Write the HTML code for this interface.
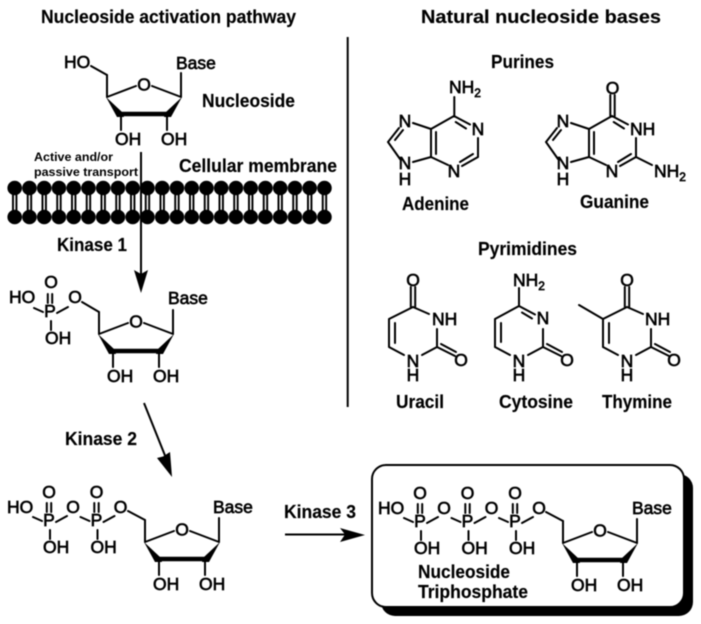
<!DOCTYPE html>
<html>
<head>
<meta charset="utf-8">
<style>
html,body{margin:0;padding:0;background:#fff;width:701px;height:624px;overflow:hidden}
svg{display:block;filter:blur(.45px)}
text{font-family:"Liberation Sans",sans-serif;fill:#000}
.h{font-weight:bold;font-size:18px;stroke:#000;stroke-width:.15px}
.c{font-size:17.5px;stroke:#000;stroke-width:.65px}
.m{text-anchor:middle}
.b{stroke:#000;stroke-width:2;fill:none;stroke-linecap:round}
</style>
</head>
<body>
<svg width="701" height="624" viewBox="0 0 701 624" xmlns="http://www.w3.org/2000/svg">
<defs>
<g id="sugar">
<path class="b" d="M0 0L29 -11M45 -11L74 0M74 0V-24M0 0V-22M14 19V33M60 19V33"/>
<path d="M-1 0L10 20H17L15 15Z" fill="#000"/>
<path d="M75 0L64 20H57L59 15Z" fill="#000"/>
<path d="M13 17H61" stroke="#000" stroke-width="4.5"/>
</g>
<g id="phos">
<path class="b" d="M-2.2 -23V-14M2.2 -23V-14M1 4V13M-16 -9L-7 -5M7 -4L18 -10"/>
</g>
<g id="tail">
<path d="M0 188V217" stroke="#000" stroke-width="5.4"/>
<path d="M0 193V212" stroke="#fff" stroke-width="1.5"/>
<circle cx="0" cy="188" r="7.3" fill="#000"/>
<circle cx="0" cy="217" r="7.3" fill="#000"/>
</g>
<path id="purine" class="b" d="M23 2L41 8M41 8V36M46 11V33M41 8L64 -5M64 -5L80 3.5M65.7 1L76 7.5M88 17V36M88 36L72 45M83 33L70 41M58 44L41 36M41 36L23 41M10 38L-2 21M-2 21L9 7M5 19L13 9"/>
<path id="pyr" class="b" d="M0 0L-24 12M-24 12V40M-24 40L-9 48M9 48L24 40M24 40V22M16 7L0 0M-2.2 -20V0M2.2 -20V0M24 40L42 49M28 37L43 45"/>
</defs>

<!-- Headers -->
<text class="h" x="41" y="23" textLength="255" lengthAdjust="spacingAndGlyphs">Nucleoside activation pathway</text>
<text class="h" x="421" y="23" textLength="240" lengthAdjust="spacingAndGlyphs">Natural nucleoside bases</text>
<path d="M347.7 37V407" stroke="#000" stroke-width="2"/>

<!-- Nucleoside -->
<use href="#sugar" x="107" y="97"/>
<path class="b" d="M107 75L91 66"/>
<text class="c" x="64" y="68">HO</text>
<text class="c m" x="144" y="90.5">O</text>
<text class="c" x="176" y="69">Base</text>
<text class="c" x="115" y="145">OH</text>
<text class="c" x="161" y="145">OH</text>
<text class="h" x="202" y="107" textLength="93" lengthAdjust="spacingAndGlyphs">Nucleoside</text>
<text class="h" x="179" y="172" textLength="158" lengthAdjust="spacingAndGlyphs">Cellular membrane</text>
<text x="34" y="161" font-size="12" font-weight="bold" textLength="79" lengthAdjust="spacingAndGlyphs">Active and/or</text>
<text x="34" y="176" font-size="12" font-weight="bold" textLength="104" lengthAdjust="spacingAndGlyphs">passive transport</text>

<!-- Membrane -->
<use href="#tail" x="14.7"/><use href="#tail" x="29.45"/><use href="#tail" x="44.2"/><use href="#tail" x="58.95"/><use href="#tail" x="73.7"/><use href="#tail" x="88.45"/><use href="#tail" x="103.2"/><use href="#tail" x="117.95"/><use href="#tail" x="132.7"/><use href="#tail" x="147.45"/><use href="#tail" x="162.2"/><use href="#tail" x="176.95"/><use href="#tail" x="191.7"/><use href="#tail" x="206.45"/><use href="#tail" x="221.2"/><use href="#tail" x="235.95"/><use href="#tail" x="250.7"/><use href="#tail" x="265.45"/><use href="#tail" x="280.2"/><use href="#tail" x="294.95"/><use href="#tail" x="309.7"/><use href="#tail" x="324.45"/>

<!-- Kinase 1 -->
<path d="M141 152V275" stroke="#000" stroke-width="2"/>
<path d="M141 293L134 270L141 274L148 270Z" fill="#000"/>
<text class="h" x="57" y="251" textLength="70" lengthAdjust="spacingAndGlyphs">Kinase 1</text>

<!-- Monophosphate -->
<use href="#sugar" x="99" y="334"/>
<path class="b" d="M99 312L82 302"/>
<use href="#phos" x="50" y="317"/>
<text class="c m" x="50" y="317">P</text>
<text class="c m" x="51" y="288">O</text>
<text class="c" x="9" y="303">HO</text>
<text class="c m" x="75" y="303">O</text>
<text class="c" x="45" y="344">OH</text>
<text class="c m" x="136" y="327.5">O</text>
<text class="c" x="168" y="304">Base</text>
<text class="c" x="107" y="382">OH</text>
<text class="c" x="153" y="382">OH</text>

<!-- Kinase 2 -->
<path d="M144 403L166 458" stroke="#000" stroke-width="2"/>
<path d="M172 477L157 458L163 456.5L170 452Z" fill="#000"/>
<text class="h" x="65" y="445" textLength="72" lengthAdjust="spacingAndGlyphs">Kinase 2</text>

<!-- Diphosphate -->
<use href="#sugar" x="145" y="542"/>
<path class="b" d="M145 520L128 511"/>
<use href="#phos" x="49" y="526"/><use href="#phos" x="96.5" y="526"/>
<text class="c m" x="49" y="526">P</text>
<text class="c m" x="96.5" y="526">P</text>
<text class="c m" x="49" y="498">O</text>
<text class="c m" x="96.5" y="498">O</text>
<text class="c" x="7" y="513">HO</text>
<text class="c m" x="73" y="513">O</text>
<text class="c m" x="120.5" y="513">O</text>
<text class="c" x="43" y="553">OH</text>
<text class="c" x="90.5" y="553">OH</text>
<text class="c m" x="182" y="535.5">O</text>
<text class="c" x="213" y="513">Base</text>
<text class="c" x="153" y="590">OH</text>
<text class="c" x="199" y="590">OH</text>

<!-- Kinase 3 -->
<path d="M285 534.5H345" stroke="#000" stroke-width="2"/>
<path d="M365 535L340 528L345 534.5L340 542Z" fill="#000"/>
<text class="h" x="284" y="518" textLength="72" lengthAdjust="spacingAndGlyphs">Kinase 3</text>

<!-- Box -->
<rect x="381" y="474" width="312" height="142" rx="14" fill="#000"/>
<rect x="372" y="465" width="312" height="142" rx="14" fill="#fff" stroke="#000" stroke-width="2"/>
<use href="#sugar" x="563" y="543"/>
<path class="b" d="M563 521L546 512"/>
<use href="#phos" x="420" y="527"/><use href="#phos" x="467.5" y="527"/><use href="#phos" x="515" y="527"/>
<text class="c m" x="420" y="527">P</text>
<text class="c m" x="467.5" y="527">P</text>
<text class="c m" x="515" y="527">P</text>
<text class="c m" x="420" y="499">O</text>
<text class="c m" x="467.5" y="499">O</text>
<text class="c m" x="515" y="499">O</text>
<text class="c" x="378" y="514">HO</text>
<text class="c m" x="444" y="514">O</text>
<text class="c m" x="491.5" y="514">O</text>
<text class="c m" x="539" y="514">O</text>
<text class="c" x="414" y="554">OH</text>
<text class="c" x="461.5" y="554">OH</text>
<text class="c" x="509" y="554">OH</text>
<text class="c m" x="600" y="536.5">O</text>
<text class="c" x="632" y="514">Base</text>
<text class="c" x="571" y="591">OH</text>
<text class="c" x="617" y="591">OH</text>
<text class="h" x="418" y="578" textLength="92" lengthAdjust="spacingAndGlyphs">Nucleoside</text>
<text class="h" x="418" y="598" textLength="110" lengthAdjust="spacingAndGlyphs">Triphosphate</text>

<!-- Purines -->
<text class="h" x="491" y="68" textLength="63" lengthAdjust="spacingAndGlyphs">Purines</text>
<use href="#purine" x="390" y="121"/>
<path class="b" d="M454.3 116V97"/>
<text class="c" x="449" y="93">NH<tspan font-size="12" dy="4">2</tspan></text>
<text class="c m" x="405" y="127">N</text>
<text class="c m" x="478" y="135">N</text>
<text class="c m" x="454" y="177">N</text>
<text class="c m" x="405" y="169">N</text>
<text class="c m" x="405" y="185">H</text>
<text class="h" x="402" y="210" textLength="67" lengthAdjust="spacingAndGlyphs">Adenine</text>

<use href="#purine" x="548" y="121"/>
<path class="b" d="M610.3 116V95M614.7 116V95M636 157L652 165"/>
<text class="c m" x="612.5" y="94">O</text>
<text class="c m" x="563" y="127">N</text>
<text class="c" x="630" y="135">NH</text>
<text class="c m" x="612" y="177">N</text>
<text class="c m" x="563" y="169">N</text>
<text class="c m" x="563" y="185">H</text>
<text class="c" x="654" y="177">NH<tspan font-size="12" dy="4">2</tspan></text>
<text class="h" x="580" y="208" textLength="69" lengthAdjust="spacingAndGlyphs">Guanine</text>

<!-- Pyrimidines -->
<text class="h" x="478" y="255" textLength="99" lengthAdjust="spacingAndGlyphs">Pyrimidines</text>

<use href="#pyr" x="413" y="307"/>
<path class="b" d="M395 323V343"/>
<text class="c m" x="413" y="286">O</text>
<text class="c" x="432" y="325">NH</text>
<text class="c m" x="413" y="367">N</text>
<text class="c m" x="413" y="381">H</text>
<text class="c m" x="461" y="366">O</text>
<text class="h" x="396" y="408" textLength="48" lengthAdjust="spacingAndGlyphs">Uracil</text>

<path class="b" d="M519 306L495 319M495 319V347M495 347L510 355M528 355L543 347M543 347V329M519 306L535 314.5M522 312.5L532 318.5M519 306V288M501 323V342M543 347L561 356M547 344L562 352"/>
<text class="c" x="513" y="286">NH<tspan font-size="12" dy="4">2</tspan></text>
<text class="c m" x="543" y="324">N</text>
<text class="c m" x="519" y="367">N</text>
<text class="c m" x="519" y="381">H</text>
<text class="c m" x="567" y="366">O</text>
<text class="h" x="499" y="408" textLength="74" lengthAdjust="spacingAndGlyphs">Cytosine</text>

<use href="#pyr" x="627" y="307"/>
<path class="b" d="M609 323V343M603 319L579 305"/>
<text class="c m" x="627" y="286">O</text>
<text class="c" x="645" y="325">NH</text>
<text class="c m" x="627" y="367">N</text>
<text class="c m" x="627" y="381">H</text>
<text class="c m" x="674" y="366">O</text>
<text class="h" x="602" y="408" textLength="70" lengthAdjust="spacingAndGlyphs">Thymine</text>
</svg>
</body>
</html>
